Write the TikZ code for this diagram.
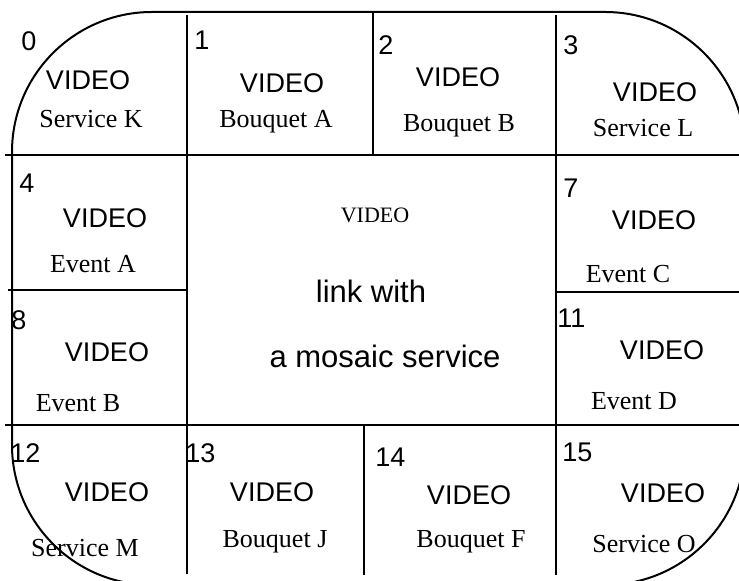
\documentclass[tikz,border=0pt]{standalone}
\usepackage{fontspec}
\setmainfont{Liberation Serif}
\setsansfont{Liberation Sans}
\usetikzlibrary{positioning}

\begin{document}
\begin{tikzpicture}[
  x=0.5pt,y=-0.5pt,
  every node/.style={inner sep=0pt},
  frame/.style={draw=black,line width=1pt,rounded corners=70pt},
  grid/.style={draw=black,line width=1pt},
  num/.style={font=\fontsize{13.5}{16}\sffamily,anchor=base west},
  vid/.style={font=\fontsize{13.5}{16}\sffamily,anchor=base},
  lbl/.style={font=\fontsize{13}{15}\rmfamily,anchor=base}
]
\useasboundingbox (0,0) rectangle (739,581);
\clip (0,0) rectangle (739,581);

% outline of the screen
\draw[frame] (12,12) rectangle (745,585);

% mosaic grid
\draw[grid] (5,155) -- (739,155);
\draw[grid] (8,290) -- (186,290);
\draw[grid] (557,292) -- (739,292);
\draw[grid] (5,425) -- (739,425);
\draw[grid] (187,15) -- (187,574);
\draw[grid] (556,15) -- (556,575);
\draw[grid] (373,12) -- (373,154);
\draw[grid] (364,425) -- (364,575);

% top row
\node[num] (n0) at (21,51) {0};
\node[vid] (v0) at (88,90) {VIDEO};
\node[lbl] (l0) at (91,128) {Service K};

\node[num] (n1) at (194,50) {1};
\node[vid] (v1) at (282,93) {VIDEO};
\node[lbl] (l1) at (276,128) {Bouquet A};

\node[num] (n2) at (378,55) {2};
\node[vid] (v2) at (458,87) {VIDEO};
\node[lbl] (l2) at (459,132) {Bouquet B};

\node[num] (n3) at (563,55) {3};
\node[vid] (v3) at (655,102) {VIDEO};
\node[lbl] (l3) at (643,137) {Service L};

% middle rows
\node[num] (n4) at (19,193) {4};
\node[vid] (v4) at (105,228) {VIDEO};
\node[lbl] (l4) at (93,273) {Event A};

\node[num] (n8) at (11,330) {8};
\node[vid] (v8) at (107,362) {VIDEO};
\node[lbl] (l8) at (78,412) {Event B};

\node[num] (n7) at (563,198) {7};
\node[vid] (v7) at (654,230) {VIDEO};
\node[lbl] (l7) at (628,283) {Event C};

\node[num] (n11) at (557,328) {11};
\node[vid] (v11) at (662,360) {VIDEO};
\node[lbl] (l11) at (634,410) {Event D};

% centre cell
\node[font=\fontsize{11}{13}\rmfamily,anchor=base] (vc) at (375,223) {VIDEO};
\node[font=\fontsize{15.5}{18}\sffamily,anchor=base] (lk) at (371,303) {link with};
\node[font=\fontsize{15.5}{18}\sffamily,anchor=base] (ms) at (385,368) {a mosaic service};

% bottom row
\node[num] (n12) at (10,463) {12};
\node[vid] (v12) at (107,502) {VIDEO};
\node[lbl] (l12) at (85,557) {Service M};

\node[num] (n13) at (185,463) {13};
\node[vid] (v13) at (272,502) {VIDEO};
\node[lbl] (l13) at (275,548) {Bouquet J};

\node[num] (n14) at (375,467) {14};
\node[vid] (v14) at (469,505) {VIDEO};
\node[lbl] (l14) at (471,548) {Bouquet F};

\node[num] (n15) at (562,462) {15};
\node[vid] (v15) at (663,503) {VIDEO};
\node[lbl] (l15) at (644,553) {Service O};
\end{tikzpicture}
\end{document}
